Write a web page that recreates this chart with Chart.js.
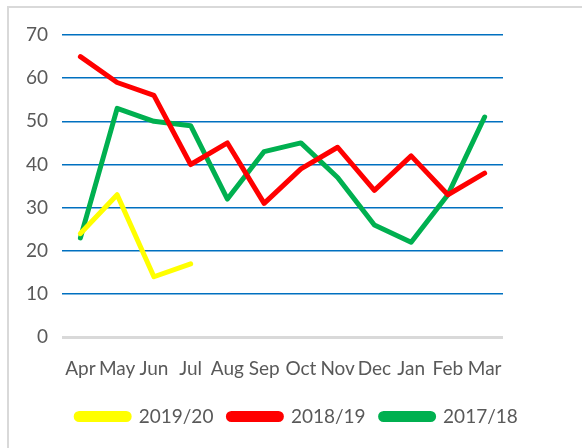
<!DOCTYPE html>
<html>
<head>
<meta charset="utf-8">
<script src="https://cdn.jsdelivr.net/npm/chart.js@4/dist/chart.umd.min.js"></script>
<style>
  body { margin: 0; background: #fff; }
  #frame { position: absolute; left: 7px; top: 6px; width: 600px; height: 460px; border: 2px solid #d9d9d9; }
  #wrap { position: absolute; left: 0; top: 0; width: 582px; height: 448px; }
</style>
</head>
<body>
<div id="frame"></div>
<div id="wrap"><canvas id="chart" width="582" height="448"></canvas></div>
<script>
// months of the financial year
var months = ['Apr', 'May', 'Jun', 'Jul', 'Aug', 'Sep', 'Oct', 'Nov', 'Dec', 'Jan', 'Feb', 'Mar'];
var y2019 = [24, 33, 14, 17, null, null, null, null, null, null, null, null];
var y2018 = [65, 59, 56, 40, 45, 31, 39, 44, 34, 42, 33, 38];
var y2017 = [23, 53, 50, 49, 32, 43, 45, 37, 26, 22, 33, 51];
var yTicks = [0, 10, 20, 30, 40, 50, 60, 70];

var txtColor = '#595959';
var fontFam = "Lato, 'Open Sans', sans-serif";

function ds(label, data, color) {
    return {
        label: label,
        data: data,
        borderColor: color,
        backgroundColor: color,
        borderWidth: 5,
        borderCapStyle: 'round',
        borderJoinStyle: 'round',
        pointRadius: 0,
        tension: 0,
        spanGaps: false
    };
}

var ctx = document.getElementById('chart');
var chart = new Chart(ctx, {
    type: 'line',
    data: {
        labels: months,
        datasets: [
            ds('2019/20', y2019, '#ffff00'),
            ds('2018/19', y2018, '#ff0000'),
            ds('2017/18', y2017, '#00b050')
        ]
    },
    options: {
        responsive: false,
        animation: false,
        layout: {
            padding: { left: 12, right: 0, top: 35, bottom: 12 }
        },
        plugins: {
            tooltip: { enabled: false },
            legend: {
                display: true,
                position: 'bottom',
                labels: {
                    color: txtColor,
                    font: { family: fontFam, size: 19 },
                    boxWidth: 53,
                    boxHeight: 6,
                    useBorderRadius: true,
                    borderRadius: 3,
                    padding: 15
                }
            }
        },
        scales: {
            x: {
                offset: true,
                border: { display: false },
                grid: { display: false },
                ticks: {
                    color: txtColor,
                    font: { family: fontFam, size: 19 },
                    maxRotation: 0,
                    autoSkip: false,
                    padding: 12
                }
            },
            y: {
                min: 0,
                max: 70,
                afterBuildTicks: function (axis) {
                    axis.ticks = yTicks.map(function (v) { return { value: v }; });
                },
                border: { display: false },
                grid: {
                    drawTicks: false,
                    color: function (c) { return c.tick.value === 0 ? '#d9d9d9' : '#0070c0'; },
                    lineWidth: function (c) { return c.tick.value === 0 ? 3 : 1.5; }
                },
                ticks: {
                    color: txtColor,
                    font: { family: fontFam, size: 19 },
                    padding: 14
                }
            },
            // empty spacer on the right
            yRight: {
                position: 'right',
                border: { display: false },
                grid: { display: false },
                ticks: { display: false },
                afterFit: function (axis) { axis.width = 79; }
            }
        }
    }
});
</script>
</body>
</html>
